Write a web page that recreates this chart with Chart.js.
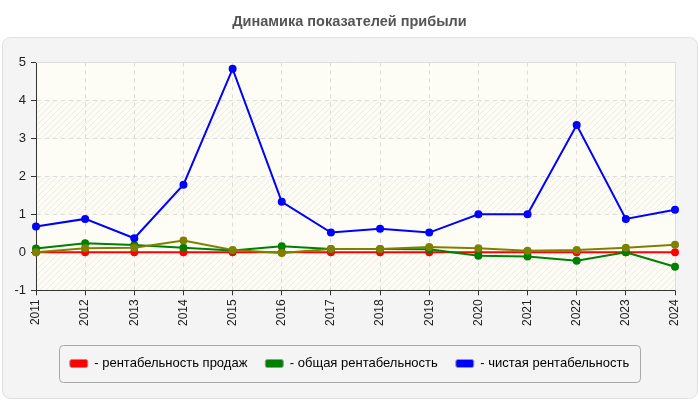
<!DOCTYPE html>
<html>
<head>
<meta charset="utf-8">
<script src="https://cdn.jsdelivr.net/npm/chart.js@4.4.1/dist/chart.umd.min.js"></script>
<style>
  html, body { margin: 0; padding: 0; background: #fff; }
  #wrap { width: 700px; height: 400px; position: relative; }
</style>
</head>
<body>
<div id="wrap"><canvas id="chart"></canvas></div>
<script>
const years = ['2011', '2012', '2013', '2014', '2015', '2016', '2017', '2018', '2019', '2020', '2021', '2022', '2023', '2024'];
const salesProfit = [0, 0, 0, 0, 0, 0, 0, 0, 0, 0, 0, 0, 0, 0];
const totalProfit = [0.10, 0.24, 0.19, 0.12, 0.05, 0.16, 0.09, 0.09, 0.08, -0.09, -0.11, -0.22, 0.0, -0.38];
const netProfit = [0.68, 0.88, 0.37, 1.78, 4.83, 1.33, 0.52, 0.62, 0.52, 1.0, 1.0, 3.35, 0.88, 1.12];
const extraSeries = [0, 0.11, 0.12, 0.31, 0.06, -0.02, 0.09, 0.09, 0.14, 0.11, 0.04, 0.06, 0.12, 0.20];
const seriesNames = ['рентабельность продаж', 'общая рентабельность', 'чистая рентабельность', ''];
const yTicks = [-1, 0, 1, 2, 3, 4, 5];

// hatch pattern for every other band
function makeHatch() {
  const c = document.createElement('canvas');
  c.width = 6; c.height = 6;
  const g = c.getContext('2d');
  g.fillStyle = '#fcfcf5';
  g.fillRect(0, 0, 6, 6);
  g.strokeStyle = '#ececE6';
  g.lineWidth = 1;
  g.beginPath();
  g.moveTo(0, 6); g.lineTo(6, 0);
  g.moveTo(-1, 1); g.lineTo(1, -1);
  g.moveTo(5, 7); g.lineTo(7, 5);
  g.stroke();
  return g.createPattern(c, 'repeat');
}

const backdrop = {
  id: 'backdrop',
  afterLayout(chart) {
    // title and legend sit centred on the whole card, not on the padded area
    [chart.titleBlock, chart.legend].forEach(b => {
      if (b) { b.left += 7; b.right += 7; }
    });
  },
  beforeDraw(chart) {
    const ctx = chart.ctx;
    const a = chart.chartArea;
    const y = chart.scales.y;
    ctx.save();
    ctx.fillStyle = '#fff';
    ctx.fillRect(0, 0, chart.width, chart.height);
    ctx.beginPath();
    ctx.roundRect(2.5, 37.5, 695, 361, 8);
    ctx.fillStyle = '#f4f4f4';
    ctx.fill();
    ctx.strokeStyle = '#e0e0e0';
    ctx.stroke();
    const hatch = makeHatch();
    for (let i = 0; i < yTicks.length - 1; i++) {
      const top = y.getPixelForValue(yTicks[i + 1]);
      const bot = y.getPixelForValue(yTicks[i]);
      ctx.fillStyle = i % 2 === 0 ? hatch : '#fdfdf6';
      ctx.fillRect(a.left, top, a.right - a.left, bot - top);
    }
    ctx.restore();
  },
  beforeDatasetsDraw(chart) {
    const ctx = chart.ctx;
    const a = chart.chartArea;
    ctx.save();
    ctx.strokeStyle = '#dedede';
    ctx.lineWidth = 1;
    ctx.beginPath();
    ctx.moveTo(a.left, Math.round(a.top) + 0.5);
    ctx.lineTo(Math.round(a.right) + 0.5, Math.round(a.top) + 0.5);
    ctx.lineTo(Math.round(a.right) + 0.5, a.bottom);
    ctx.stroke();
    ctx.restore();
  },
  afterDraw(chart) {
    const boxes = chart.legend.legendHitBoxes;
    if (!boxes || !boxes.length) return;
    let l = Infinity, r = -Infinity, t = Infinity, b = -Infinity;
    boxes.forEach(h => {
      l = Math.min(l, h.left); r = Math.max(r, h.left + h.width);
      t = Math.min(t, h.top); b = Math.max(b, h.top + h.height);
    });
    const ctx = chart.ctx;
    ctx.save();
    ctx.beginPath();
    ctx.roundRect(Math.round(l - 11) + 0.5, Math.round(t - 12) + 0.5, Math.round(r - l + 22), Math.round(b - t + 24), 4);
    ctx.strokeStyle = '#a8a8a8';
    ctx.lineWidth = 1;
    ctx.stroke();
    ctx.restore();
  }
};

function line(label, data, color, order) {
  return {
    label: label,
    data: data,
    borderColor: color,
    backgroundColor: color,
    borderWidth: 2,
    pointRadius: 4,
    pointHoverRadius: 4,
    pointBorderWidth: 0,
    tension: 0,
    order: order
  };
}

new Chart(document.getElementById('chart'), {
  type: 'line',
  data: {
    labels: years,
    datasets: [
      line(seriesNames[0], salesProfit, '#ff0000', 4),
      line(seriesNames[1], totalProfit, '#008000', 3),
      line(seriesNames[2], netProfit, '#0000ff', 1),
      line(seriesNames[3], extraSeries, '#808000', 2)
    ]
  },
  options: {
    responsive: true,
    maintainAspectRatio: false,
    animation: false,
    layout: { padding: { left: 10, right: 25, top: 0, bottom: 20 } },
    plugins: {
      title: {
        display: true,
        text: 'Динамика показателей прибыли',
        color: '#555',
        font: { family: 'Liberation Sans, Arial, sans-serif', size: 14.5, weight: 'bold' },
        padding: { top: 13, bottom: 32 }
      },
      legend: {
        position: 'bottom',
        labels: {
          color: '#333',
          font: { family: 'Liberation Sans, Arial, sans-serif', size: 13 },
          boxWidth: 18,
          boxHeight: 8,
          padding: 18,
          generateLabels(chart) {
            return chart.data.datasets.map((ds, i) => ({
              text: '- ' + ds.label,
              fillStyle: ds.borderColor,
              strokeStyle: '#999',
              lineWidth: 1,
              borderRadius: 2,
              datasetIndex: i,
              hidden: false
            })).filter(item => item.text !== '- ');
          }
        }
      },
      tooltip: { enabled: false }
    },
    scales: {
      x: {
        offset: false,
        afterFit(scale) { scale.height += 9; },
        grid: { color: '#dcdcdc', tickColor: '#333', tickLength: 5, offset: false, tickBorderDash: [] },
        border: { color: '#333', width: 1, dash: [4, 4] },
        ticks: {
          color: '#222',
          maxRotation: 90,
          minRotation: 90,
          padding: 4,
          font: { family: 'Liberation Sans, Arial, sans-serif', size: 12 }
        }
      },
      y: {
        min: -1,
        max: 5,
        afterBuildTicks(scale) { scale.ticks = yTicks.map(v => ({ value: v })); },
        afterFit(scale) { scale.width = 26; },
        grid: { color: '#dcdcdc', tickColor: '#333', tickLength: 5, tickBorderDash: [] },
        border: { color: '#333', width: 1, dash: [4, 4] },
        ticks: {
          color: '#222',
          padding: 5,
          font: { family: 'Liberation Sans, Arial, sans-serif', size: 13 }
        }
      }
    }
  },
  plugins: [backdrop]
});
</script>
</body>
</html>
